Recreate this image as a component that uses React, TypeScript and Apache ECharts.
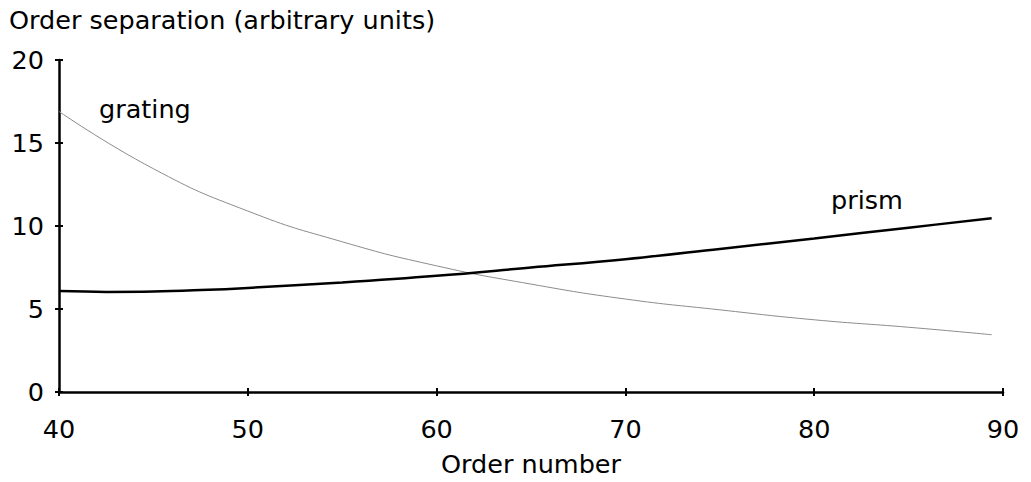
import React, { useEffect, useRef } from "react";
import * as echarts from "echarts";

const gratingOrders = [40, 45, 50, 55, 60, 65, 70, 75, 80, 85, 89.4];
const gratingValues = [16.9, 13.45, 10.9, 9.05, 7.6, 6.5, 5.6, 4.95, 4.35, 3.9, 3.45];
const prismOrders = [40, 42.5, 45, 47.5, 50, 55, 60, 65, 70, 75, 80, 85, 89.4];
const prismValues = [6.08, 6.03, 6.05, 6.14, 6.27, 6.6, 7.0, 7.5, 8.0, 8.62, 9.25, 9.9, 10.46];
const xTicks = { min: 40, max: 90, interval: 10 };
const yTicks = { min: 0, max: 20, interval: 5 };

const FONT = "DejaVu Sans";
const FS = 25.5;

export default function App() {
  const ref = useRef<HTMLDivElement>(null);
  useEffect(() => {
    if (!ref.current) return;
    const chart = echarts.init(ref.current, null, { renderer: "svg" });
    const toPairs = (xs: number[], vals: number[]) => xs.map((o, i) => [o, vals[i]]);
    const axisLine = { show: true, lineStyle: { color: "#000", width: 2.5 } };
    chart.setOption({
      animation: false,
      backgroundColor: "#fff",
      grid: { left: 59, right: 28, top: 60, bottom: 90, containLabel: false, outerBoundsMode: "none" },
      xAxis: [
        {
          type: "value",
          ...xTicks,
          position: "bottom",
          axisLine,
          axisTick: { show: true, length: 4, lineStyle: { color: "#000", width: 2 } },
          axisLabel: { margin: 24, color: "#000", fontSize: FS, fontFamily: FONT },
          splitLine: { show: false },
          name: "Order number",
          nameLocation: "middle",
          nameGap: 59,
          nameTextStyle: { color: "#000", fontSize: FS, fontFamily: FONT },
        },
        {
          type: "value",
          ...xTicks,
          position: "bottom",
          axisLine: { show: false },
          axisTick: { show: true, inside: true, length: 4, lineStyle: { color: "#000", width: 2 } },
          axisLabel: { show: false },
          splitLine: { show: false },
        },
      ],
      yAxis: [
        {
          type: "value",
          ...yTicks,
          axisLine,
          axisTick: { show: true, length: 4, lineStyle: { color: "#000", width: 2 } },
          axisLabel: { margin: 15, color: "#000", fontSize: FS, fontFamily: FONT },
          splitLine: { show: false },
        },
        {
          type: "value",
          ...yTicks,
          position: "left",
          axisLine: { show: false },
          axisTick: { show: true, inside: true, length: 4, lineStyle: { color: "#000", width: 2 } },
          axisLabel: { show: false },
          splitLine: { show: false },
        },
      ],
      graphic: [
        {
          type: "text",
          left: 9,
          top: 7,
          style: { text: "Order separation (arbitrary units)", fill: "#000", fontSize: FS, fontFamily: FONT },
        },
        {
          type: "text",
          x: 99,
          y: 109,
          style: { text: "grating", fill: "#000", fontSize: FS, fontFamily: FONT, verticalAlign: "middle" },
        },
        {
          type: "text",
          x: 831,
          y: 200,
          style: { text: "prism", fill: "#000", fontSize: FS, fontFamily: FONT, verticalAlign: "middle" },
        },
      ],
      series: [
        {
          name: "grating",
          type: "line",
          data: toPairs(gratingOrders, gratingValues),
          smooth: true,
          showSymbol: false,
          lineStyle: { color: "#8c8c8c", width: 1 },
        },
        {
          name: "prism",
          type: "line",
          data: toPairs(prismOrders, prismValues),
          smooth: 0.4,
          showSymbol: false,
          lineStyle: { color: "#000", width: 2.5 },
        },
      ],
    });
    return () => chart.dispose();
  }, []);
  return <div ref={ref} style={{ width: 1031, height: 482, position: "absolute", left: 0, top: 0 }} />;
}
